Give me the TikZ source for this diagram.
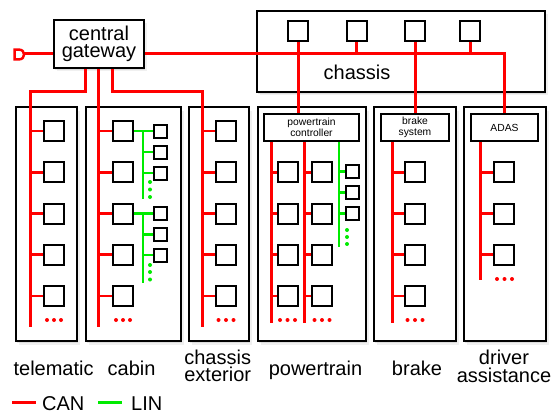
\documentclass[tikz,border=0pt]{standalone}
\usepackage{fontspec}
\setmainfont{Liberation Sans}
\usetikzlibrary{calc,shadows}
\definecolor{canred}{RGB}{255,0,0}
\definecolor{lingreen}{RGB}{0,235,0}
\begin{document}
\begin{tikzpicture}[x=1pt,y=-1pt,
  bigbox/.style={draw,line width=2pt,fill=white,anchor=north west,inner sep=0pt,
    drop shadow={shadow xshift=2.5pt,shadow yshift=-3.5pt,opacity=.12},
    drop shadow={shadow xshift=1.2pt,shadow yshift=-1.8pt,opacity=.18}},
  subbox/.style={draw,line width=2pt,fill=white,inner sep=0pt,align=center,
    font=\fontsize{10.3}{11}\selectfont},
  ecu/.style={draw,line width=2pt,fill=white,minimum size=20pt,inner sep=0pt},
  lecu/.style={draw,line width=2pt,fill=white,minimum size=13pt,inner sep=0pt},
  can/.style={draw=canred,line width=3pt},
  canstub/.style={draw=canred,line width=2.6pt},
  lin/.style={draw=lingreen,line width=2.6pt},
  lbl/.style={inner sep=0pt,font=\fontsize{20}{17.5}\selectfont,align=center},
  rdot/.style={fill=canred},
  gdot/.style={fill=lingreen}]
\useasboundingbox (0,0) rectangle (560,412);
% ---- boxes
\node[bigbox,minimum width=61pt,minimum height=234pt] (tel) at (15,106) {};
\node[bigbox,minimum width=95pt,minimum height=234pt] (cab) at (85,106) {};
\node[bigbox,minimum width=60pt,minimum height=234pt] (ext) at (188,106) {};
\node[bigbox,minimum width=108pt,minimum height=234pt] (pwr) at (257,106) {};
\node[bigbox,minimum width=82pt,minimum height=234pt] (brk) at (373,106) {};
\node[bigbox,minimum width=82pt,minimum height=234pt] (drv) at (463,106) {};
\node[bigbox,minimum width=288pt,minimum height=81pt] (chs) at (256,10) {};
\node[bigbox,minimum width=90pt,minimum height=48pt,align=center,
  font=\fontsize{20}{17.5}\selectfont] (gw) at (53,19) {central\\gateway};
\node[lbl] (chsl) at (357,72) {chassis};
% ---- controller boxes
\node[subbox,minimum width=95pt,minimum height=27pt] (ptc) at (311.5,127.5) {powertrain\\controller};
\node[subbox,minimum width=68pt,minimum height=27pt] (bs) at (415,127.5) {brake\\system};
\node[subbox,minimum width=67pt,minimum height=27pt] (adas) at (504.5,127.5) {ADAS};
% ---- chassis ECUs
\node[ecu] (c1) at (298,31) {};
\node[ecu] (c2) at (356.5,31) {};
\node[ecu] (c3) at (415,31) {};
\node[ecu] (c4) at (470,31) {};
% ---- bus end coordinates
\coordinate (term) at (24.4,54);
\coordinate (tbot) at (30,327);
\coordinate (cbot) at (98,327);
\coordinate (ebot) at (202,327);
\coordinate (p1t) at (271,142);
\coordinate (p1b) at (271,323);
\coordinate (p2t) at (304,142);
\coordinate (p2b) at (304,323);
\coordinate (plt) at (339,142);
\coordinate (plb) at (339,247);
\coordinate (bb) at (392,323);
\coordinate (ab) at (480,280);
\coordinate (l1b) at (143,199);
\coordinate (l2b) at (143,283);
% ---- gateway connections
\draw[can] ($(gw.west)+(0,10)$) -- (term);
\draw[canred,line width=2.5pt,fill=white] (14.6,49.6) -- (19,49.6)
  .. controls (25.8,49.6) and (25.8,59.4) .. (19,59.4) -- (14.6,59.4) -- cycle;
\draw[can] ($(gw.east)+(0,10)$) -| (adas.north);
\draw[can] ($(gw.south)+(-14,0)$) -- ++(0,23) -| (tbot);
\draw[can] ($(gw.south)+(-1,0)$) -- (cbot);
\draw[can] ($(gw.south)+(13,0)$) -- ++(0,23) -| (ebot);
\draw[can] (c1.south) -- (c1.south |- ptc.north);
\draw[can] (c2.south) -- ++(0,12);
\draw[can] (c3.south) -- (bs.north);
\draw[can] (c4.south) -- ++(0,12);
% ---- telematic, cabin, exterior ECUs
\foreach \i/\y in {1/131,2/172.25,3/213.5,4/254.75,5/296}{
  \node[ecu] (t\i) at (54,\y) {};
  \draw[canstub] (t\i.west) -- (t\i.west -| tbot);
  \node[ecu] (k\i) at (123,\y) {};
  \draw[canstub] (k\i.west) -- (k\i.west -| cbot);
  \node[ecu] (e\i) at (226,\y) {};
  \draw[canstub] (e\i.west) -- (e\i.west -| ebot);
}
% ---- cabin LIN
\node[lecu] (s1) at (160.5,131) {};
\node[lecu] (s2) at (160.5,152) {};
\node[lecu] (s3) at (160.5,173) {};
\node[lecu] (s4) at (160.5,213.5) {};
\node[lecu] (s5) at (160.5,234.5) {};
\node[lecu] (s6) at (160.5,255) {};
\draw[lin] (k1.east) -- (s1.west);
\draw[lin] (k1.east -| l1b) -- (l1b);
\draw[lin] (s2.west) -- (s2.west -| l1b);
\draw[lin] (s3.west) -- (s3.west -| l1b);
\draw[lin] (k3.east) -- (s4.west);
\draw[lin] (k3.east -| l2b) -- (l2b);
\draw[lin] (s5.west) -- (s5.west -| l2b);
\draw[lin] (s6.west) -- (s6.west -| l2b);
% ---- powertrain
\draw[can] (p1t) -- (p1b);
\draw[can] (p2t) -- (p2b);
\draw[lin] (plt) -- (plb);
\draw[can] (bs.south -| bb) -- (bb);
\draw[can] (adas.south -| ab) -- (ab);
\foreach \i/\y in {1/172.25,2/213.5,3/254.75,4/296}{
  \node[ecu] (pa\i) at (287.5,\y) {};
  \draw[canstub] (pa\i.west) -- (pa\i.west -| p1t);
  \node[ecu] (pb\i) at (322,\y) {};
  \draw[canstub] (pb\i.west) -- (pb\i.west -| p2t);
  \node[ecu] (b\i) at (415,\y) {};
  \draw[canstub] (b\i.west) -- (b\i.west -| bb);
}
\foreach \i/\y in {1/172.25,2/213.5,3/254.75}{
  \node[ecu] (a\i) at (504,\y) {};
  \draw[canstub] (a\i.west) -- (a\i.west -| ab);
}
\foreach \i/\y in {1/171.5,2/192.5,3/213.5}{
  \node[lecu] (pl\i) at (352.5,\y) {};
  \draw[lin] (pl\i.west) -- (pl\i.west -| plt);
}
% ---- dots
\foreach \x in {47,54,61,116,123,130,218.5,226,233.5,280,287.5,295,314.5,322,329.5,407.5,415,422.5}
  \fill[rdot] (\x,320) circle (2pt);
\foreach \x in {497,504.5,512}
  \fill[rdot] (\x,279) circle (2pt);
\foreach \y in {182,189.5,197,265,272,279.5}
  \fill[gdot] (150,\y) circle (2pt);
\foreach \y in {230,237,244}
  \fill[gdot] (347,\y) circle (2pt);
% ---- labels
\node[lbl,anchor=base] (ltel) at (53.6,375.5) {telematic};
\node[lbl,anchor=base] (lcab) at (131.6,375.5) {cabin};
\node[lbl] (lext) at (217.7,366) {chassis\\exterior};
\node[lbl,anchor=base] (lpwr) at (315.5,375.5) {powertrain};
\node[lbl,anchor=base] (lbrk) at (417,375.5) {brake};
\node[lbl] (ldrv) at (504,366.5) {driver\\assistance};
% ---- legend
\coordinate (cana) at (12,402.7);
\coordinate (canb) at (36,402.7);
\coordinate (lina) at (98,402.7);
\coordinate (linb) at (122,402.7);
\draw[can] (cana) -- (canb);
\draw[lin,line width=3pt] (lina) -- (linb);
\node[lbl,anchor=base west] (lcan) at (42,410) {CAN};
\node[lbl,anchor=base west] (llin) at (131,410) {LIN};
\end{tikzpicture}
\end{document}
